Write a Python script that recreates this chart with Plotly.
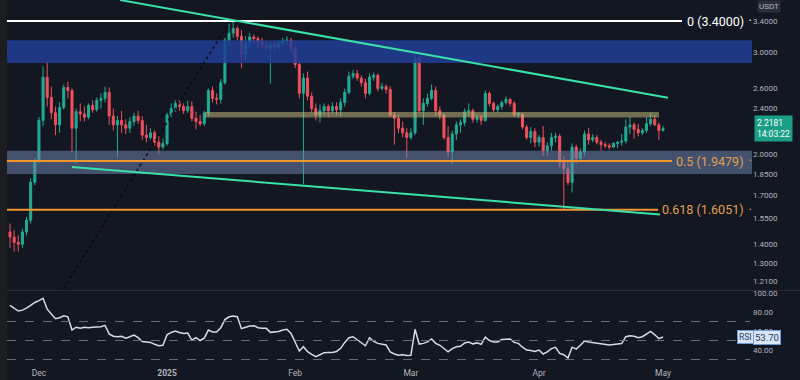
import math
import pandas as pd
import plotly.graph_objects as go

# ---------------- data ----------------
dates = pd.date_range("2024-11-24", "2025-05-01", freq="D")

opens = [1.47,1.44,1.41,1.40,1.47,1.54,1.79,1.95,2.29,2.72,
         2.51,2.36,2.25,2.41,2.61,2.58,2.22,2.37,2.35,2.32,
         2.43,2.39,2.48,2.50,2.56,2.33,2.25,2.29,2.25,2.22,
         2.28,2.33,2.29,2.16,2.14,2.18,2.10,2.06,2.09,2.34,
         2.40,2.45,2.42,2.38,2.42,2.31,2.28,2.26,2.36,2.58,
         2.50,2.49,2.66,3.15,3.24,3.30,3.20,2.98,3.12,3.19,
         3.17,3.13,3.09,3.05,3.10,3.07,3.11,3.14,3.15,3.04,
         2.86,2.55,2.71,2.52,2.40,2.34,2.38,2.42,2.38,2.42,
         2.39,2.46,2.56,2.73,2.76,2.71,2.66,2.55,2.72,2.74,
         2.60,2.62,2.59,2.34,2.31,2.22,2.18,2.14,2.18,2.93,
         2.38,2.45,2.50,2.58,2.38,2.34,2.14,2.02,2.17,2.25,
         2.27,2.37,2.38,2.30,2.32,2.29,2.55,2.45,2.39,2.42,
         2.46,2.49,2.45,2.34,2.35,2.23,2.14,2.19,2.10,2.14,
         2.03,2.07,2.14,2.15,1.94,1.89,1.79,2.06,1.97,2.02,
         2.17,2.12,2.14,2.10,2.08,2.07,2.06,2.09,2.10,2.11,
         2.23,2.25,2.21,2.18,2.20,2.26,2.30,2.25,2.20]
highs = [1.52,1.48,1.45,1.49,1.56,1.82,1.97,2.32,2.84,2.91,
         2.62,2.42,2.46,2.64,2.67,2.60,2.40,2.45,2.42,2.45,
         2.48,2.51,2.55,2.62,2.61,2.40,2.33,2.38,2.30,2.32,
         2.36,2.38,2.33,2.25,2.22,2.20,2.15,2.13,2.36,2.45,
         2.48,2.48,2.45,2.48,2.47,2.37,2.34,2.38,2.60,2.62,
         2.55,2.70,3.18,3.37,3.40,3.33,3.28,3.20,3.24,3.22,
         3.20,3.18,3.14,3.12,3.14,3.15,3.18,3.20,3.18,3.08,
         2.90,2.76,2.78,2.56,2.45,2.44,2.45,2.44,2.46,2.46,
         2.50,2.60,2.78,2.80,2.80,2.74,2.70,2.76,2.77,2.76,
         2.66,2.64,2.62,2.37,2.34,2.28,2.22,2.22,2.97,2.96,
         2.50,2.55,2.64,2.62,2.42,2.36,2.24,2.20,2.28,2.30,
         2.40,2.45,2.40,2.35,2.34,2.58,2.57,2.47,2.44,2.48,
         2.52,2.50,2.47,2.37,2.36,2.25,2.23,2.22,2.16,2.24,
         2.10,2.18,2.18,2.17,1.99,1.96,2.09,2.08,2.05,2.20,
         2.22,2.17,2.16,2.12,2.10,2.09,2.10,2.11,2.17,2.30,
         2.33,2.27,2.26,2.22,2.32,2.36,2.34,2.27,2.24]
lows = [1.38,1.36,1.36,1.38,1.45,1.52,1.77,1.93,2.24,2.42,
        2.30,2.16,2.18,2.39,2.50,2.02,1.93,2.28,2.28,2.30,
        2.36,2.37,2.40,2.46,2.25,2.20,1.98,2.18,2.17,2.18,
        2.24,2.26,2.12,2.10,2.12,2.07,2.00,2.04,2.07,2.32,
        2.37,2.38,2.35,2.36,2.28,2.21,2.24,2.24,2.33,2.46,
        2.44,2.45,2.64,3.08,3.18,3.15,2.82,2.90,3.05,3.10,
        3.05,3.05,3.02,2.65,3.02,3.04,3.08,3.10,3.00,2.82,
        2.50,1.78,2.48,2.36,2.29,2.27,2.34,2.32,2.35,2.34,
        2.33,2.42,2.54,2.70,2.68,2.62,2.50,2.53,2.68,2.57,
        2.58,2.55,2.32,2.08,2.18,2.14,1.97,2.12,2.16,2.36,
        2.25,2.42,2.48,2.33,2.30,2.12,1.98,1.92,2.12,2.18,
        2.24,2.33,2.27,2.27,2.25,2.28,2.42,2.37,2.36,2.39,
        2.44,2.42,2.32,2.31,2.21,2.12,2.09,2.06,2.06,1.99,
        1.99,2.03,2.10,1.90,1.61,1.77,1.72,1.93,1.94,1.99,
        2.08,2.10,2.08,2.03,2.05,2.04,2.05,2.05,2.07,2.09,
        2.17,2.13,2.15,2.16,2.18,2.24,2.24,2.12,2.19]
closes = [1.44,1.41,1.40,1.47,1.54,1.79,1.95,2.29,2.72,2.51,
          2.36,2.25,2.41,2.61,2.58,2.22,2.37,2.35,2.32,2.43,
          2.39,2.48,2.50,2.56,2.33,2.25,2.29,2.25,2.22,2.28,
          2.33,2.29,2.16,2.14,2.18,2.10,2.06,2.09,2.34,2.40,
          2.45,2.42,2.38,2.42,2.31,2.28,2.26,2.36,2.58,2.50,
          2.49,2.66,3.15,3.24,3.30,3.20,2.98,3.12,3.19,3.17,
          3.13,3.09,3.05,3.10,3.07,3.11,3.14,3.15,3.04,2.86,
          2.55,2.71,2.52,2.40,2.34,2.38,2.42,2.38,2.42,2.39,
          2.46,2.56,2.73,2.76,2.71,2.66,2.55,2.72,2.74,2.60,
          2.62,2.59,2.34,2.31,2.22,2.18,2.14,2.18,2.93,2.38,
          2.45,2.50,2.58,2.38,2.34,2.14,2.02,2.17,2.25,2.27,
          2.37,2.38,2.30,2.32,2.29,2.55,2.45,2.39,2.42,2.46,
          2.49,2.45,2.34,2.35,2.23,2.14,2.19,2.10,2.14,2.03,
          2.07,2.14,2.15,1.94,1.89,1.79,2.06,1.97,2.02,2.17,
          2.12,2.14,2.10,2.08,2.07,2.06,2.09,2.10,2.11,2.23,
          2.25,2.21,2.18,2.20,2.26,2.30,2.25,2.20,2.2181]
rsi = [87,84,81,82,84,87,90,92,94.4,83,
       78,73,74,76,75,61,64,63,64,63.5,
       64,64,64.5,66,57,54.5,54,54.5,52.5,54,
       55.8,53,49,48.5,48,46,44.5,45,56,58.5,
       60,58.5,57.5,57.8,50.5,53,50,52.5,61,59,
       59,63.5,72,75,75.8,75,62.5,64,65.3,65.6,
       63.5,62.8,62.8,58.6,59,59.5,61,61.8,57.5,48,
       39,43.5,38.2,35.5,33,35,37.2,37.5,37.5,38.5,
       41.8,48,53,54,51,48,44.5,53,49,47,
       46.5,45.3,38,35.8,34.5,35,34.2,34.5,61.8,46.3,
       47,48.5,51.6,47,45,42,38.2,41.5,43.5,44,
       47.5,48.5,46.5,47.5,46,53.5,50,48.5,48.5,51,
       51.6,51.6,48,47,43,40,39.5,38.5,40,35.8,
       38,41.5,42.8,36.5,35,31.5,43,41,45,49.5,
       48.5,48,47.5,47,46.5,45.3,45.8,46.2,46.8,54,
       55,54.5,53,54,57,59.5,56,52,53.7]

price_ticks = [3.4, 3.0, 2.6, 2.4, 2.0, 1.85, 1.7, 1.55, 1.4, 1.3, 1.21]
rsi_ticks = [100, 80, 60, 40]
rsi_bands = [70, 50, 30]
month_ticks = ["2024-12-01", "2025-01-01", "2025-02-01", "2025-03-01", "2025-04-01", "2025-05-01"]
month_labels = ["Dec", "<b>2025</b>", "Feb", "Mar", "Apr", "May"]

fib_levels = [3.4, 1.9479, 1.6051]
fib_labels = ["0 (3.4000)", "0.5 (1.9479)", "0.618 (1.6051)"]

# zones: (low, high)
zone_blue = (2.877, 3.15)
zone_grey = (1.851, 2.03)
zone_khaki = (2.317, 2.368)

# trendline anchor prices
upper_trend = (3.696, 2.507)
lower_trend = (1.903, 1.5756)
fib_anchor = (3.40, 0.833)

last_price = 2.2181
last_rsi = 53.70

# ---------------- layout helpers ----------------
W, H = 800, 380
ML, MR, MT, MB = 7, 48, 0, 14
PW = W - ML - MR
PH = H - MT - MB
PX0, PXD = 10, 4.133  # pixel of first candle, pixels per day


def px_date(px):
    return dates[0] + pd.Timedelta(days=(px - PX0) / PXD)


def px_paper_x(px):
    return (px - ML) / PW


def py_paper(py):
    return (H - MB - py) / PH


price_dom = [py_paper(290), 1]
rsi_dom = [0, py_paper(291)]

BG = "#131722"
GREEN = "#22ab94"
RED = "#f0505c"
TEAL = "#3be0a8"
ORANGE = "#f2962e"
AXIS_TXT = "#b2b5be"

fig = go.Figure()


def rect(x0px, x1px, lo, hi, color):
    fig.add_trace(go.Scatter(
        x=[px_date(x0px), px_date(x1px), px_date(x1px), px_date(x0px), px_date(x0px)],
        y=[lo, lo, hi, hi, lo], fill="toself", fillcolor=color, mode="lines",
        line=dict(width=0), hoverinfo="skip", showlegend=False, xaxis="x", yaxis="y"))


rect(7, 752, zone_blue[0], zone_blue[1], "rgba(33,62,150,0.85)")
rect(7, 752, zone_grey[0], zone_grey[1], "rgba(110,130,170,0.55)")

# candles
fig.add_trace(go.Candlestick(
    x=dates, open=opens, high=highs, low=lows, close=closes,
    increasing=dict(line=dict(color=GREEN, width=1), fillcolor=GREEN),
    decreasing=dict(line=dict(color=RED, width=1), fillcolor=RED),
    showlegend=False, hoverinfo="skip", xaxis="x", yaxis="y"))

rect(205, 659, zone_khaki[0], zone_khaki[1], "rgba(190,180,120,0.55)")


def line(x0px, x1px, y0, y1, color, width=2, dash="solid"):
    fig.add_trace(go.Scatter(
        x=[px_date(x0px), px_date(x1px)], y=[y0, y1], mode="lines",
        line=dict(color=color, width=width, dash=dash),
        hoverinfo="skip", showlegend=False, xaxis="x", yaxis="y"))


# dotted fib trend
line(230, 10, fib_anchor[0], fib_anchor[1], "rgba(5,7,12,0.85)", 1.6, "dot")
# fib levels
line(7, 682, fib_levels[0], fib_levels[0], "#ffffff", 2)
line(7, 672, fib_levels[1], fib_levels[1], ORANGE, 2)
line(7, 658, fib_levels[2], fib_levels[2], ORANGE, 2)
# channel
line(120, 668, upper_trend[0], upper_trend[1], TEAL, 2)
line(72, 660, lower_trend[0], lower_trend[1], TEAL, 2)

# RSI
fig.add_trace(go.Scatter(x=dates, y=rsi, mode="lines", line=dict(color="#d6dbe6", width=1.5),
                         hoverinfo="skip", showlegend=False, xaxis="x2", yaxis="y2"))

shapes = []
for b in rsi_bands:
    shapes.append(dict(type="line", xref="paper", yref="y2", x0=0, x1=px_paper_x(750), y0=b, y1=b,
                       line=dict(color="#6a6d78", width=1, dash="dash")))
# pane separator
shapes.append(dict(type="line", xref="paper", yref="paper", x0=px_paper_x(0), x1=px_paper_x(800),
                   y0=py_paper(290.5), y1=py_paper(290.5), line=dict(color="#2a2e39", width=1)))
# left strip
shapes.append(dict(type="rect", xref="paper", yref="paper", x0=px_paper_x(0), x1=0,
                   y0=py_paper(380), y1=py_paper(0), fillcolor="#1c1d21", line=dict(width=0)))

annotations = []
fib_colors = ["#ffffff", "#e0a050", "#e0a050"]
for lv, lab, col in zip(fib_levels, fib_labels, fib_colors):
    annotations.append(dict(xref="paper", yref="y", x=px_paper_x(746), y=math.log10(lv),
                            text=lab, showarrow=False, xanchor="right", yanchor="middle",
                            font=dict(color=col, size=12.5)))
    annotations.append(dict(xref="paper", yref="y", x=px_paper_x(750), y=math.log10(lv),
                            text="•", showarrow=False, xanchor="center", yanchor="middle",
                            font=dict(color=col, size=7)))

annotations.append(dict(xref="paper", yref="y", x=px_paper_x(754), y=math.log10(last_price),
                        text=f"{last_price:.4f}<br>14:03:22", showarrow=False, xanchor="left",
                        yanchor="middle", align="left", bgcolor="#1a9e86",
                        font=dict(color="#ffffff", size=8.5), borderpad=2))
annotations.append(dict(xref="paper", yref="paper", x=px_paper_x(757), y=py_paper(0),
                        text="USDT", showarrow=False, xanchor="left", yanchor="top",
                        bgcolor="#2a2e39", font=dict(color=AXIS_TXT, size=8), borderpad=1))
annotations.append(dict(xref="paper", yref="y2", x=px_paper_x(737), y=last_rsi,
                        text="RSI", showarrow=False, xanchor="left", yanchor="middle",
                        bgcolor="#d8e6f7", bordercolor="#6f9ad6", borderwidth=1,
                        font=dict(color="#1d3b66", size=8.5), borderpad=1))
annotations.append(dict(xref="paper", yref="y2", x=px_paper_x(753), y=last_rsi,
                        text=f"{last_rsi:.2f}", showarrow=False, xanchor="left", yanchor="middle",
                        bgcolor="#d8e6f7", bordercolor="#6f9ad6", borderwidth=1,
                        font=dict(color="#1d3b66", size=9.5), borderpad=1))

xrange = [px_date(7), px_date(752)]

fig.update_layout(
    width=W, height=H,
    margin=dict(l=ML, r=MR, t=MT, b=MB, pad=0, autoexpand=False),
    paper_bgcolor=BG, plot_bgcolor=BG,
    font=dict(family="Roboto, Inter, sans-serif", color=AXIS_TXT, size=8),
    showlegend=False,
    shapes=shapes, annotations=annotations,
    xaxis=dict(domain=[0, 1], anchor="y", range=xrange, showgrid=False, zeroline=False,
               showticklabels=False, rangeslider=dict(visible=False), showline=False),
    xaxis2=dict(domain=[0, 1], anchor="y2", matches="x", range=xrange, showgrid=False,
                zeroline=False, tickmode="array", tickvals=month_ticks, ticktext=month_labels,
                tickfont=dict(size=8.5, color=AXIS_TXT), ticks="", ticklen=0, showline=False),
    yaxis=dict(domain=price_dom, anchor="x", type="log", side="right",
               range=[math.log10(1.167), math.log10(3.696)], showgrid=False, zeroline=False,
               tickmode="array", tickvals=price_ticks,
               ticktext=[f"{v:.4f}" for v in price_ticks],
               tickfont=dict(size=8, color=AXIS_TXT), ticks="", showline=False),
    yaxis2=dict(domain=rsi_dom, anchor="x2", side="right", range=[23.2, 102.1],
                showgrid=False, zeroline=False, tickmode="array", tickvals=rsi_ticks,
                ticktext=[f"{v:.2f}" for v in rsi_ticks],
                tickfont=dict(size=8, color=AXIS_TXT), ticks="", showline=False),
)

fig.write_html("out.html", config={"displayModeBar": False},
               post_script="document.body.style.margin='0';document.body.style.background='#131722';")
